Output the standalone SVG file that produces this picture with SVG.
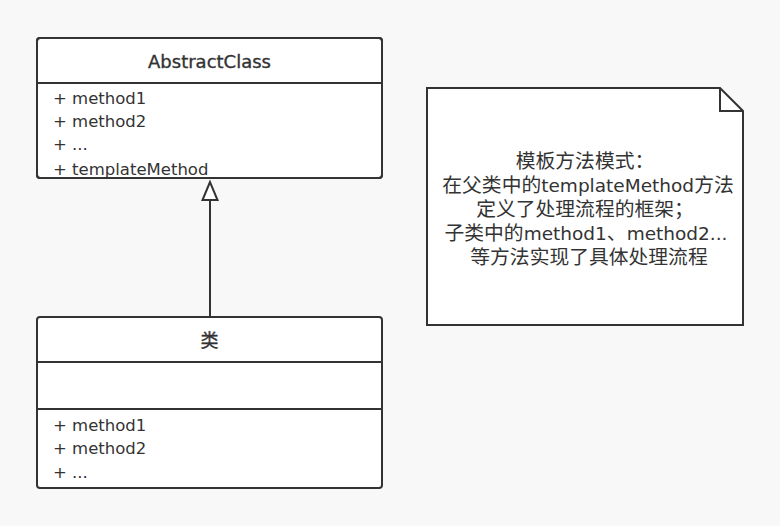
<svg xmlns="http://www.w3.org/2000/svg" width="780" height="526" viewBox="0 0 780 526">
<style>
.box{fill:#fff;stroke:#333;stroke-width:2}
.ln{stroke:#333;stroke-width:2;fill:none}
text{font-family:"DejaVu Sans","Noto Sans CJK SC",sans-serif;font-size:16.5px;fill:#333}
.t{font-size:18px;text-anchor:middle;stroke:#333;stroke-width:0.35}
.n{text-anchor:middle;font-size:19.8px}
.l{font-size:18.5px}
</style>
<defs>
<clipPath id="c1"><rect x="37" y="38" width="345" height="140" rx="3"/></clipPath>
</defs>
<rect width="780" height="526" fill="#f8f8f8"/>
<g id="connectors">
<path class="ln" d="M210,317 L210,200"/>
<path d="M210,182 L202.5,200 L217.5,200 Z" fill="#fff" stroke="#333" stroke-width="2" stroke-linejoin="miter"/>
</g>
<g id="abstractclass">
<rect class="box" x="37" y="38" width="345" height="140" rx="3"/>
<line class="ln" x1="37" y1="83" x2="382" y2="83"/>
<text class="t" x="209.5" y="68">AbstractClass</text>
<g clip-path="url(#c1)">
<text x="53" y="104">+ method1</text>
<text x="53" y="127">+ method2</text>
<text x="53" y="150">+ ...</text>
<text x="53" y="175">+ templateMethod</text>
</g>
<rect x="37" y="38" width="345" height="140" rx="3" fill="none" stroke="#333" stroke-width="2"/>
</g>
<g id="subclass">
<rect class="box" x="37" y="317" width="345" height="171" rx="3"/>
<line class="ln" x1="37" y1="362" x2="382" y2="362"/>
<line class="ln" x1="37" y1="409" x2="382" y2="409"/>
<text class="t" x="209.5" y="347">类</text>
<text x="53" y="431">+ method1</text>
<text x="53" y="454">+ method2</text>
<text x="53" y="478">+ ...</text>
</g>
<g id="note">
<path class="box" d="M427,88 L720,88 L743,111 L743,325 L427,325 Z"/>
<path class="ln" d="M720,88 L720,111 L743,111"/>
<text class="n" x="585" y="168">模板方法模式：</text>
<text class="n" x="588" y="192">在父类中的<tspan class="l">templateMethod</tspan>方法</text>
<text class="n" x="585" y="216">定义了处理流程的框架；</text>
<text class="n" x="586" y="240">子类中的<tspan class="l">method1</tspan>、<tspan class="l">method2...</tspan></text>
<text class="n" x="589" y="264">等方法实现了具体处理流程</text>
</g>
</svg>
